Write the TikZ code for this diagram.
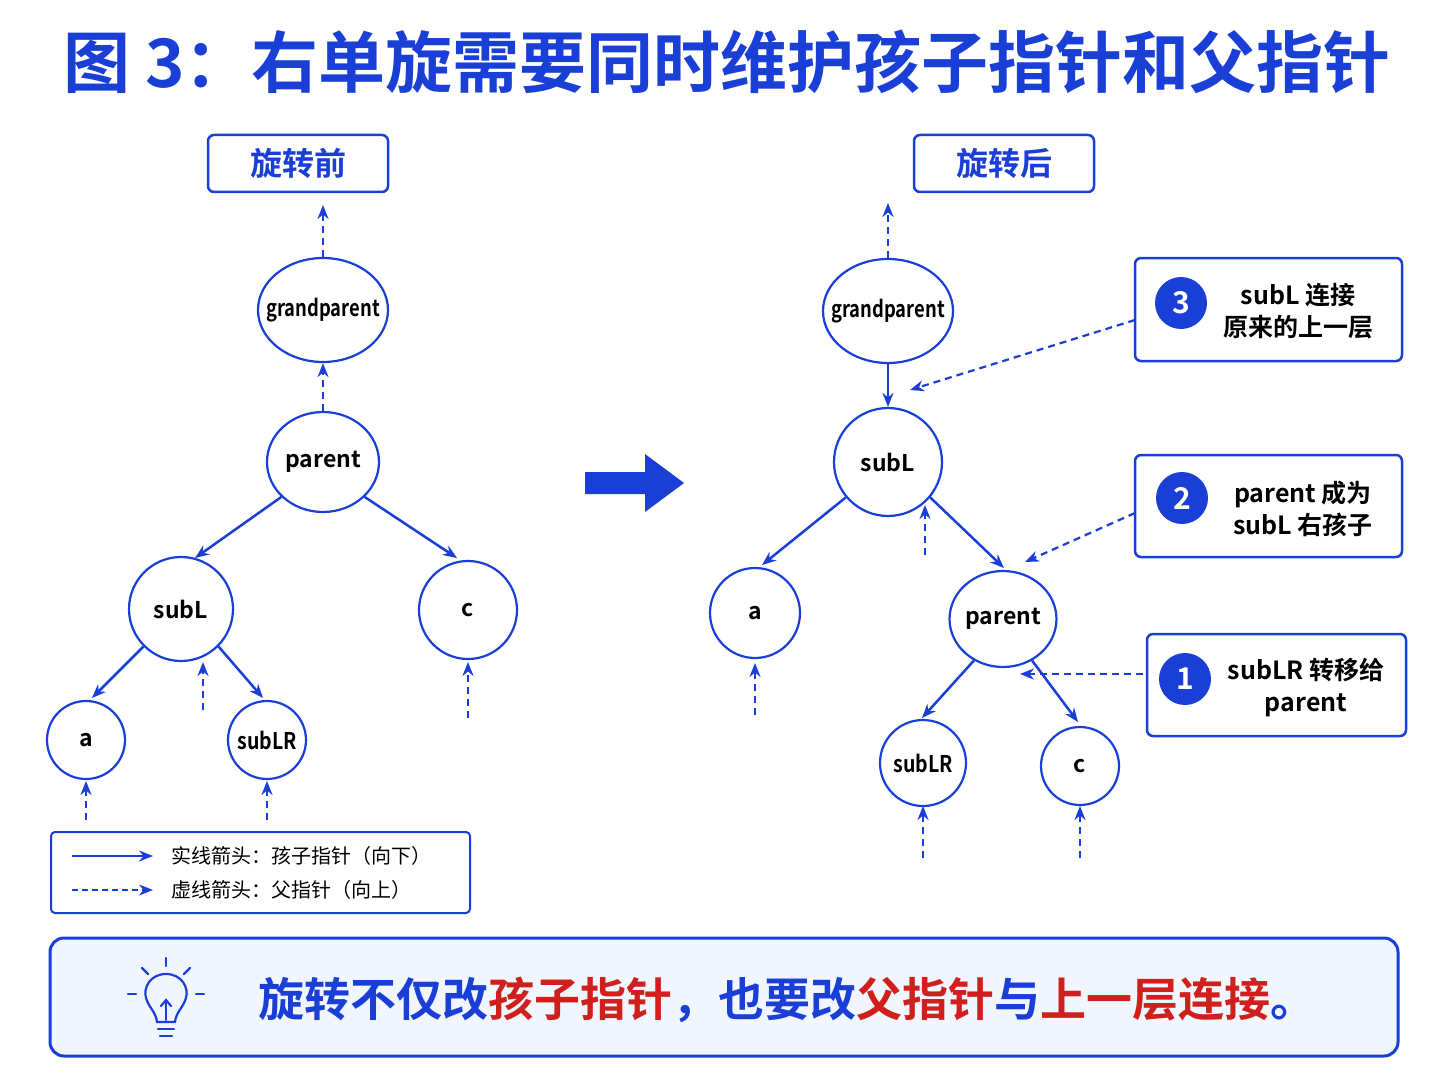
\documentclass[tikz,border=0pt]{standalone}
\usepackage{fontspec}
\setmainfont{Noto Sans CJK SC}[BoldFont={Noto Sans CJK SC Bold}]
\usetikzlibrary{arrows.meta}
\definecolor{bl}{HTML}{1A3FD6}
\definecolor{rd}{HTML}{D0201E}
\definecolor{lb}{HTML}{F1F5FD}
\tikzset{
 nd/.style={draw=bl,line width=2.2pt,fill=white,circle,inner sep=0pt,font=\bfseries\fontsize{23}{24}\selectfont},
 el/.style={draw=bl,line width=2.2pt,fill=white,ellipse,inner sep=0pt,font=\bfseries\fontsize{23}{24}\selectfont},
 gpl/.style={label={[font=\bfseries\fontsize{23}{24}\selectfont]center:\scalebox{0.8}[1]{grandparent}}},
 ch/.style={draw=bl,line width=2.5pt,-{Stealth[length=14pt,width=11pt]}},
 pa/.style={draw=bl,line width=2.2pt,dashed,dash pattern=on 7pt off 5pt,-{Stealth[length=14pt,width=11pt]}},
 box/.style={draw=bl,line width=2.5pt,rounded corners=6pt,fill=white},
 num/.style={circle,fill=bl,text=white,minimum size=52pt,inner sep=0pt,font=\bfseries\fontsize{30}{30}\selectfont},
 ct/.style={font=\bfseries\fontsize{25}{32}\selectfont,align=center,text=black},
}
\usetikzlibrary{shapes.geometric}
\begin{document}
\begin{tikzpicture}[x=1pt,y=-1pt]
\useasboundingbox[fill=white] (0,0) rectangle (1448,1086);
\node[text=bl,font=\bfseries\fontsize{67}{70}\selectfont] (title) at (727,62) {图 3：右单旋需要同时维护孩子指针和父指针};
% left
\draw[box] (208,135) rectangle (388,192);
\node[text=bl,font=\bfseries\fontsize{32}{34}\selectfont] (lb) at (298,163) {旋转前};
\node[el,minimum width=130pt,minimum height=104pt,gpl] (gp) at (323,310) {};
\node[el,minimum width=112pt,minimum height=100pt] (p) at (323,462) {parent};
\node[nd,minimum size=104pt] (s) at (181,609) {subL};
\node[nd,minimum size=98pt] (c) at (468,610) {c};
\node[nd,minimum size=78pt] (a) at (86,740) {a};
\node[nd,minimum size=78pt] (lr) at (267,740) {\scalebox{0.85}[1]{subLR}};
\coordinate (gt) at (323,205);
\draw[pa] (gp.north) -- (gt);
\draw[pa] (p.north) -- (gp.south);
\draw[ch] (p.-140) -- (195,558);
\draw[ch] (p.-40) -- (457,558);
\draw[ch] (s.-135) -- (92,698);
\draw[ch] (s.-45) -- (263,698);
\coordinate (d1) at (203,710); \coordinate (d1e) at (203,662);
\coordinate (d2) at (468,718); \coordinate (d2e) at (468,662);
\coordinate (d3) at (86,820); \coordinate (d3e) at (86,781);
\coordinate (d4) at (267,820); \coordinate (d4e) at (267,781);
\draw[pa] (d1)--(d1e); \draw[pa] (d2)--(d2e); \draw[pa] (d3)--(d3e); \draw[pa] (d4)--(d4e);
% legend
\draw[box,rounded corners=4pt,line width=2pt] (51,832) rectangle (470,913);
\coordinate (l1) at (72,856); \coordinate (l1e) at (153,856);
\coordinate (l2) at (72,890); \coordinate (l2e) at (153,890);
\draw[ch,line width=2pt] (l1)--(l1e);
\draw[pa,line width=2pt,dash pattern=on 6pt off 4pt] (l2)--(l2e);
\node[anchor=west,font=\fontsize{20}{22}\selectfont] (t1) at (168,856) {实线箭头：孩子指针（向下）};
\node[anchor=west,font=\fontsize{20}{22}\selectfont] (t2) at (168,890) {虚线箭头：父指针（向上）};
% big arrow
\fill[bl] (585,472) -- (645,472) -- (645,454) -- (684,483) -- (645,512) -- (645,494) -- (585,494) -- cycle;
% right
\draw[box] (914,135) rectangle (1094,192);
\node[text=bl,font=\bfseries\fontsize{32}{34}\selectfont] (rb) at (1004,163) {旋转后};
\node[el,minimum width=130pt,minimum height=104pt,gpl] (gp2) at (888,311) {};
\node[nd,minimum size=108pt] (s2) at (888,462) {subL};
\node[nd,minimum size=90pt] (a2) at (755,613) {a};
\node[el,minimum width=104pt,minimum height=96pt] (p2) at (1003,619) {parent};
\node[nd,minimum size=86pt] (lr2) at (923,763) {\scalebox{0.85}[1]{subLR}};
\node[nd,minimum size=78pt] (c2) at (1080,766) {c};
\coordinate (gt2) at (888,203);
\draw[pa] (gp2.north) -- (gt2);
\draw[ch] (gp2.south) -- (s2.north);
\draw[ch] (s2.-140) -- (762,565);
\draw[ch] (s2.-40) -- (1004,568);
\draw[ch] (p2.-125) -- (922,718);
\draw[ch] (p2.-55) -- (1078,722);
\coordinate (e1) at (925,555); \coordinate (e1e) at (925,505);
\coordinate (e2) at (755,715); \coordinate (e2e) at (755,663);
\coordinate (e3) at (923,858); \coordinate (e3e) at (923,806);
\coordinate (e4) at (1080,858); \coordinate (e4e) at (1080,806);
\draw[pa] (e1)--(e1e); \draw[pa] (e2)--(e2e); \draw[pa] (e3)--(e3e); \draw[pa] (e4)--(e4e);
% callouts
\draw[box] (1135,258) rectangle (1402,361);
\node[num] (n3) at (1181,303) {3};
\node[ct] (c3) at (1298,311) {subL 连接\\原来的上一层};
\draw[box] (1135,455) rectangle (1402,557);
\node[num] (n2) at (1182,498) {2};
\node[ct] (c2t) at (1303,509) {parent 成为\\subL 右孩子};
\draw[box] (1147,634) rectangle (1406,736);
\node[num] (n1) at (1185,679) {1};
\node[ct] (c1t) at (1306,688) {subLR 转移给\\parent};
\coordinate (k3) at (1135,320); \coordinate (k3e) at (910,390);
\coordinate (k2) at (1135,513); \coordinate (k2e) at (1025,562);
\coordinate (k1) at (1143,674); \coordinate (k1e) at (1020,674);
\draw[pa] (k3)--(k3e); \draw[pa] (k2)--(k2e); \draw[pa] (k1)--(k1e);
% bottom
\draw[draw=bl,line width=3pt,rounded corners=14pt,fill=lb] (50,938) rectangle (1398,1056);
\begin{scope}[draw=bl,line width=2.2pt,line cap=round]
\draw (166,974) .. controls (150,974) and (143,988) .. (146,998) .. controls (149,1008) and (156,1012) .. (157,1022) -- (175,1022) .. controls (176,1012) and (183,1008) .. (186,998) .. controls (189,988) and (182,974) .. (166,974);
\draw (158,1029) -- (174,1029); \draw (160,1036) -- (172,1036);
\draw (166,958)--(166,966); \draw (142,968)--(148,974); \draw (190,968)--(184,974);
\draw (128,994)--(136,994); \draw (196,994)--(204,994);
\draw (161,1006)--(166,1000)--(171,1006); \draw (166,1000)--(166,1020);
\end{scope}
\node[anchor=west,font=\bfseries\fontsize{46}{50}\selectfont,text=bl] (msg) at (255,1000) {旋转不仅改\textcolor{rd}{孩子指针}，也要改\textcolor{rd}{父指针}与\textcolor{rd}{上一层连接}。};
\end{tikzpicture}
\end{document}
